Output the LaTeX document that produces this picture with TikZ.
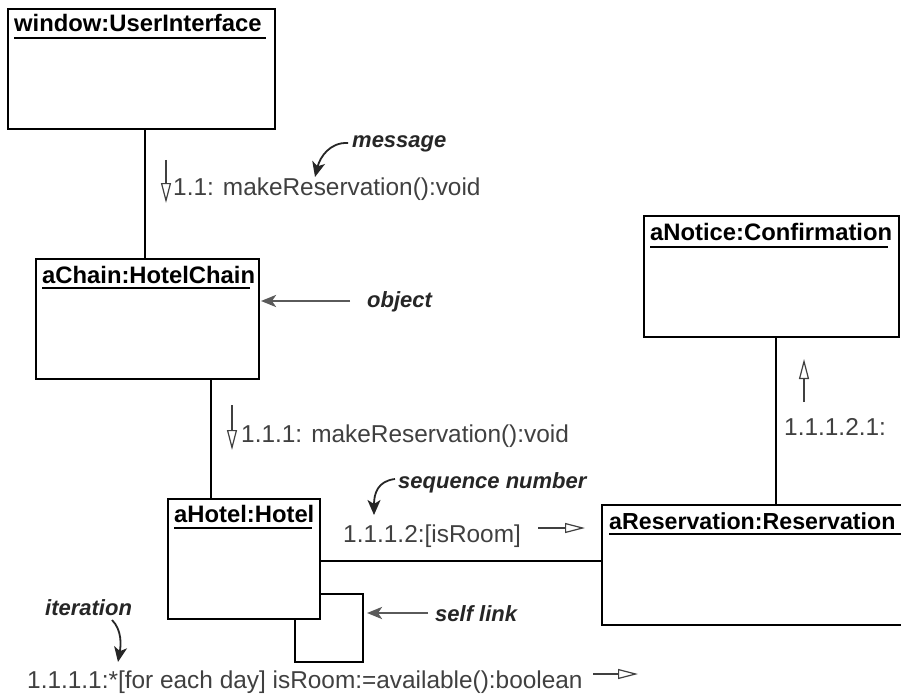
\documentclass[tikz,border=0pt]{standalone}
\usepackage{fontspec}
\setmainfont{Liberation Sans}
\usetikzlibrary{arrows.meta}
\definecolor{lbl}{HTML}{404040}
\definecolor{ann}{HTML}{5A5A5A}
\definecolor{notec}{HTML}{262626}
\begin{document}
\begin{tikzpicture}[x=1pt,y=-1pt,
  obj/.style={draw,line width=1.8pt,rectangle,inner sep=0pt,anchor=north west},
  title/.style={anchor=base west,font=\fontsize{23.8}{23.8}\selectfont\bfseries,inner sep=0pt},
  uline/.style={line width=1.6pt},
  msg/.style={font=\fontsize{24.4}{24.4}\selectfont,text=lbl,inner sep=0pt,anchor=base west},
  notetxt/.style={font=\fontsize{22}{22}\selectfont\bfseries\itshape,text=notec,inner sep=0pt,anchor=base west},
  link/.style={line width=1.6pt},
  dirarrow/.style={line width=1.2pt,draw=lbl,-{Triangle[open,length=20pt,width=10pt]}},
  pointer/.style={line width=2.8pt,draw=ann,-{Stealth[length=15pt,width=12pt,inset=4pt]}},
  curved/.style={line width=1.8pt,draw=notec,-{Stealth[length=15pt,width=13pt,inset=4pt]}}
]
\clip (0,0) rectangle (901,695);
\fill[white] (0,0) rectangle (901,695);

% object boxes
\node[obj,minimum width=267pt,minimum height=120pt] (win) at (7,8) {};
\node[obj,minimum width=223pt,minimum height=120pt] (chain) at (35,258) {};
\node[obj,minimum width=152pt,minimum height=120pt] (hotel) at (167,498) {};
\node[obj,minimum width=255pt,minimum height=121pt] (notice) at (643,215) {};
\node[obj,minimum width=330pt,minimum height=120pt] (res) at (601,504) {};

% titles
\node[title] (wint) at (14,32) {window:UserInterface};
\draw[uline] (14,38) -- (266,38);
\node[title] (chaint) at (42,283) {aChain:HotelChain};
\draw[uline] (42,288) -- (250,288);
\node[title] (hotelt) at (174,522) {aHotel:Hotel};
\draw[uline] (174,528) -- (312,528);
\node[title] (noticet) at (650,240) {aNotice:Confirmation};
\draw[uline] (650,247) -- (888,247);
\node[title,font=\fontsize{23.2}{23.2}\selectfont\bfseries] (rest) at (609,529) {aReservation:Reservation};
\draw[uline] (609,534) -- (905,534);

% links
\coordinate (xa) at (145,0);
\coordinate (xb) at (211,0);
\coordinate (xc) at (776,0);
\coordinate (yd) at (0,561);
\draw[link] (win.south -| xa) -- (chain.north -| xa);
\draw[link] (chain.south -| xb) -- (hotel.north -| xb);
\draw[link] (hotel.east |- yd) -- (res.west |- yd);
\draw[link] (notice.south -| xc) -- (res.north -| xc);
% self link
\coordinate (s1) at (363,594);
\coordinate (s2) at (363,662);
\coordinate (s3) at (295,662);
\coordinate (s4) at (295,618);
\draw[link] (hotel.east |- s1) -- (s1) -- (s2) -- (s3) -- (s4);

% message labels
\node[msg] (m1) at (173,195) {1.1: makeReservation():void};
\node[msg] (m2) at (241,442) {1.1.1: makeReservation():void};
\node[msg] (m3) at (343,542) {1.1.1.2:[isRoom]};
\node[msg] (m4) at (784,435) {1.1.1.2.1:};
\node[msg] (m5) at (27,688) {1.1.1.1:*[for each day] isRoom:=available():boolean};

% message direction arrows
\coordinate (a1s) at (166,160); \coordinate (a1e) at (166,203);
\coordinate (a2s) at (232,405); \coordinate (a2e) at (232,450);
\coordinate (a3s) at (538,528); \coordinate (a3e) at (585,528);
\coordinate (a4s) at (804,402); \coordinate (a4e) at (804,359);
\coordinate (a5s) at (593,674); \coordinate (a5e) at (638,674);
\draw[dirarrow] (a1s) -- (a1e);
\draw[dirarrow] (a2s) -- (a2e);
\draw[dirarrow] (a3s) -- (a3e);
\draw[dirarrow] (a4s) -- (a4e);
\draw[dirarrow] (a5s) -- (a5e);

% annotations
\node[notetxt] (nmsg) at (352,148) {message};
\node[notetxt] (nobj) at (367,307) {object};
\node[notetxt] (nseq) at (398,488) {sequence number};
\node[notetxt] (nself) at (435,621) {self link};
\node[notetxt] (nit) at (45,615) {iteration};

\coordinate (p1s) at (350,301); \coordinate (p1e) at (261,301);
\coordinate (p2s) at (428,613); \coordinate (p2e) at (367,613);
\draw[pointer] (p1s) -- (p1e);
\draw[pointer] (p2s) -- (p2e);

\coordinate (c1s) at (348,143); \coordinate (c1e) at (315,177);
\coordinate (c2s) at (395,479); \coordinate (c2e) at (374,515);
\coordinate (c3s) at (112,620); \coordinate (c3e) at (118,662);
\draw[curved] (c1s) .. controls (330,142) and (320,157) .. (c1e);
\draw[curved] (c2s) .. controls (378,481) and (374,493) .. (c2e);
\draw[curved] (c3s) .. controls (122,630) and (121,645) .. (c3e);
\end{tikzpicture}
\end{document}
